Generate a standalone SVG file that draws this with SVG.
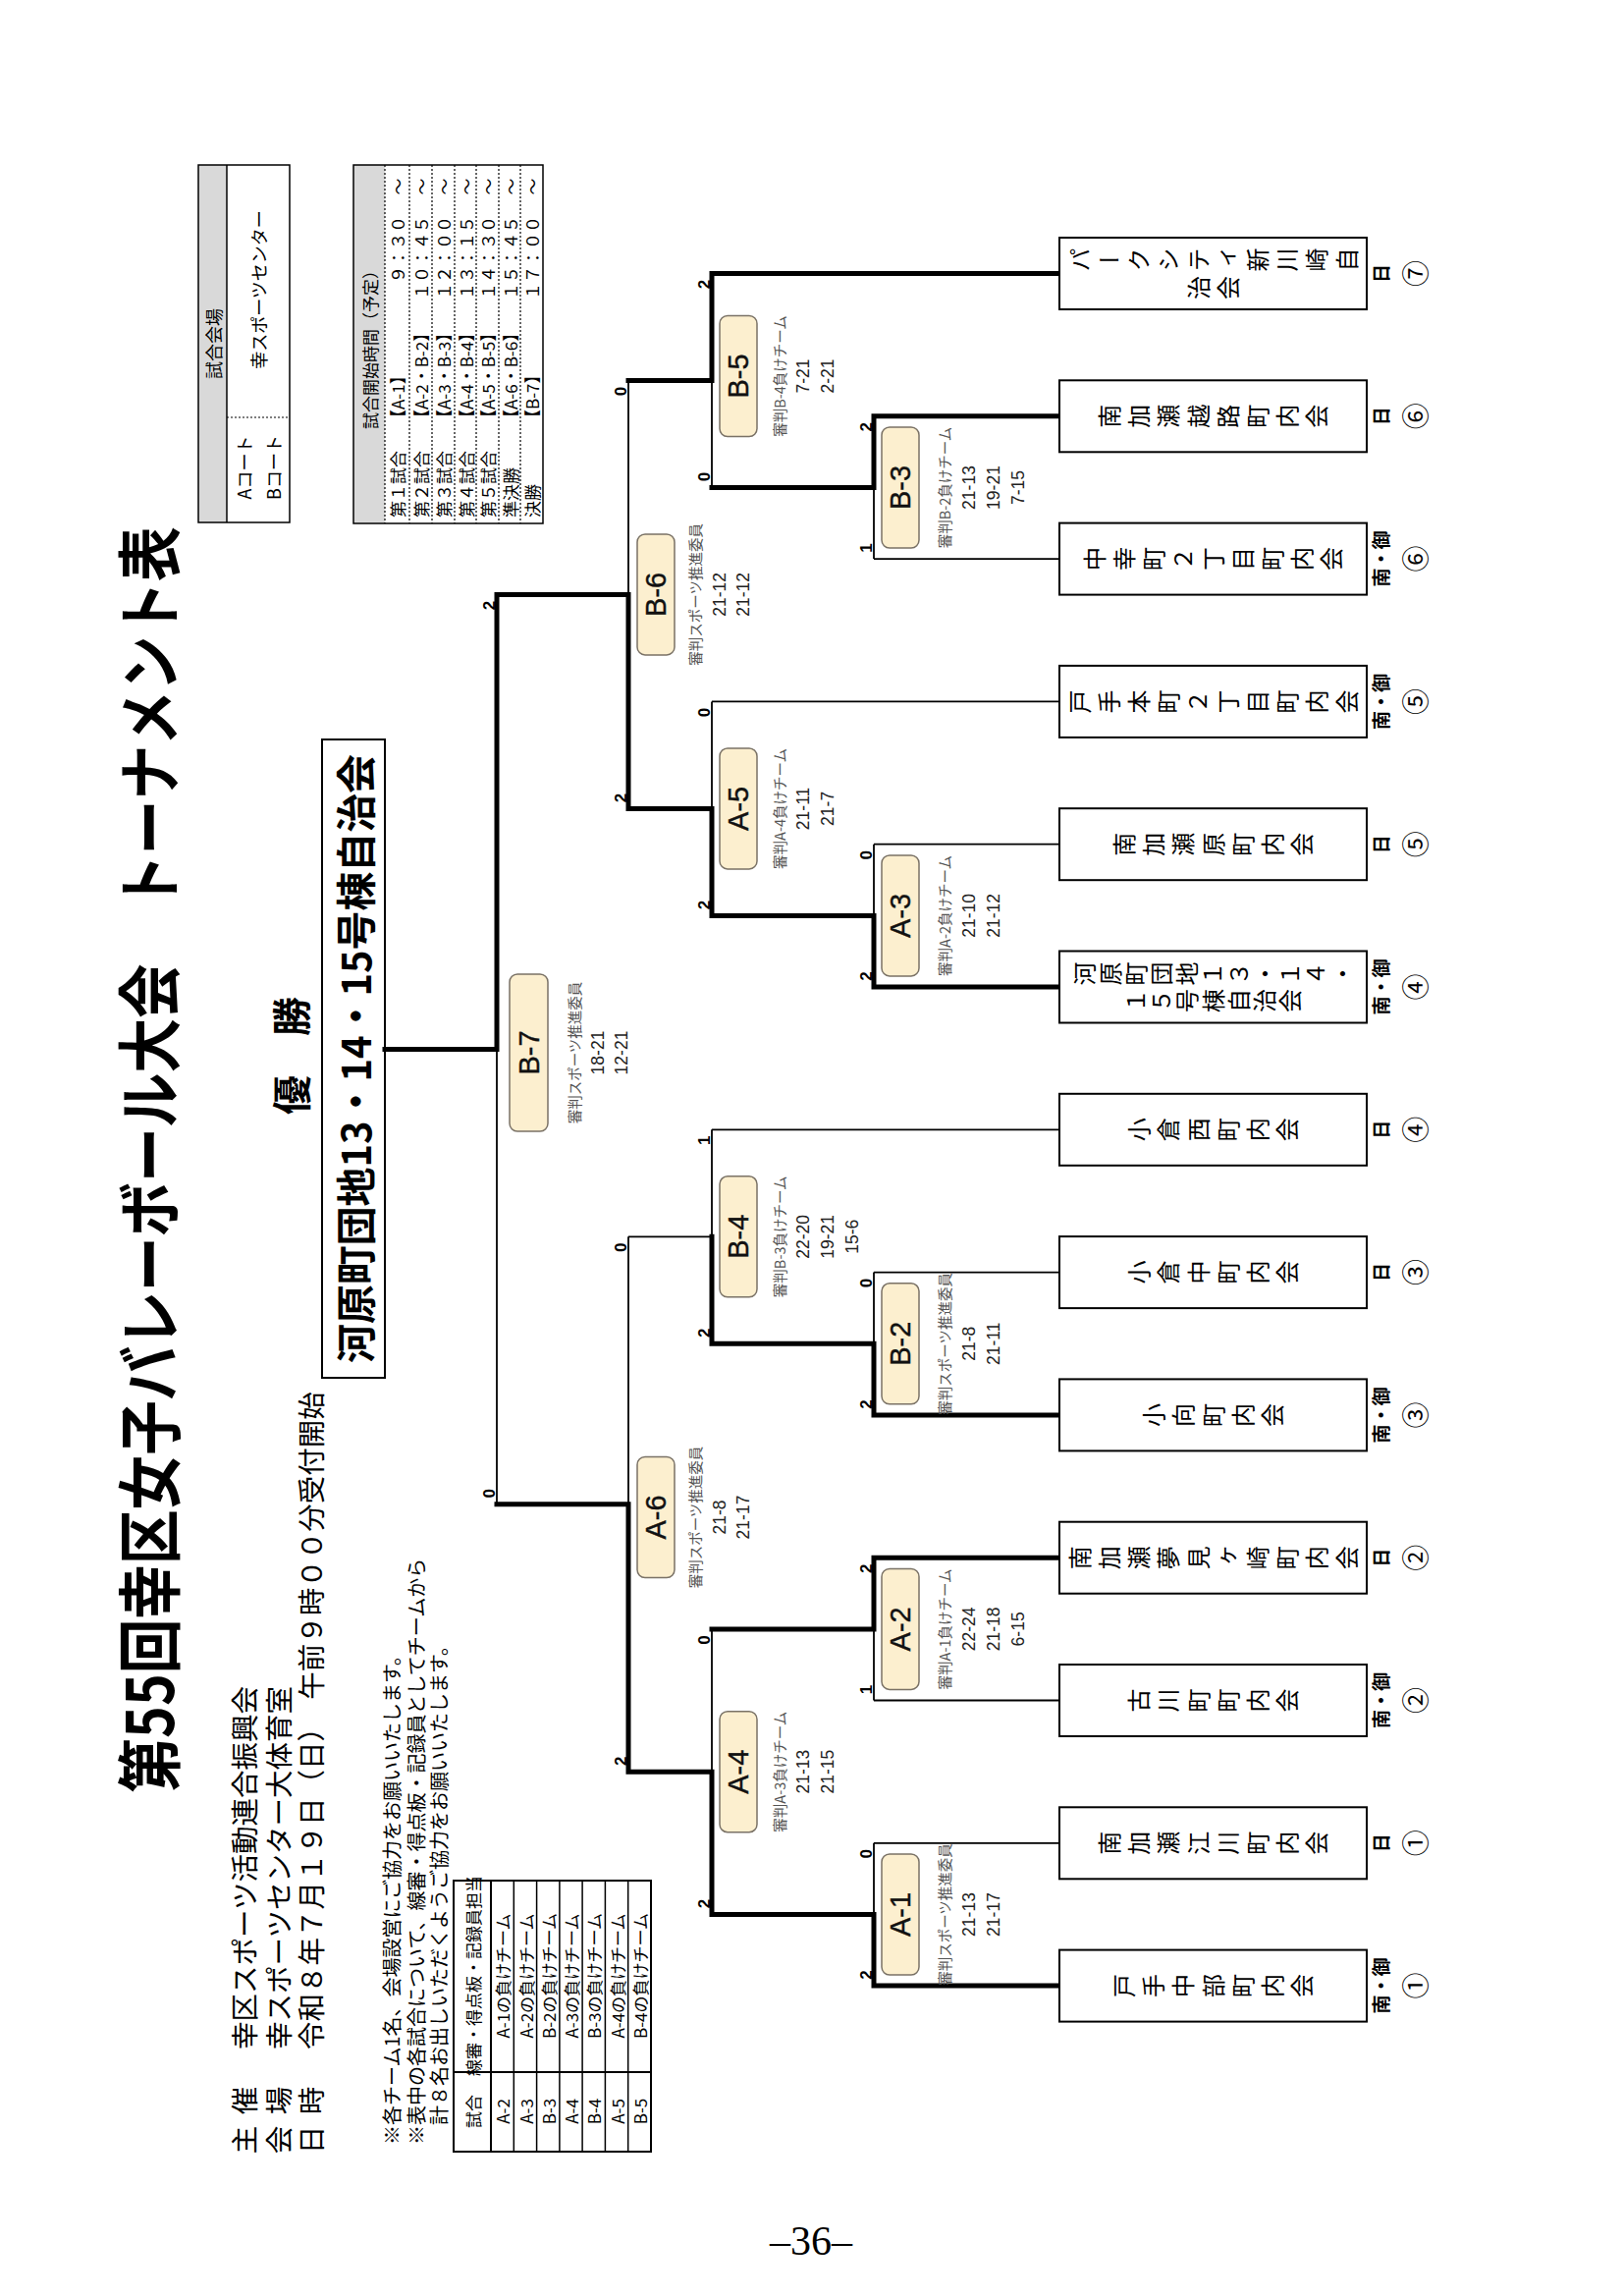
<svg xmlns="http://www.w3.org/2000/svg" width="1653" height="2338" viewBox="0 0 1653 2338">
<style>
.t{font-family:"Noto Sans CJK JP","Noto Sans",sans-serif;fill:#000}
.c{text-anchor:middle;dominant-baseline:central}
.s{dominant-baseline:central}
.e{text-anchor:end;dominant-baseline:central}
.tm{font-family:"Noto Sans CJK JP",sans-serif;font-size:24px;letter-spacing:6.2px;writing-mode:vertical-rl;text-anchor:middle;fill:#000}
.box{fill:#fff;stroke:#000;stroke-width:2}
.thick{fill:none;stroke:#000;stroke-width:5;stroke-linejoin:miter;stroke-linecap:square}
.thin{fill:none;stroke:#000;stroke-width:1.8}
.mr{fill:#fcefcf;stroke:#7a7266;stroke-width:1.5}
.ml{font-family:"Liberation Sans",Arial,sans-serif;font-size:29px;fill:#111;stroke:#111;stroke-width:0.4}
.ref{font-family:"Noto Sans CJK JP",sans-serif;font-size:14.5px;fill:#555}
.pt{font-family:"Liberation Sans",Arial,sans-serif;font-size:17.5px;fill:#222}
.sc{font-family:"Liberation Sans",Arial,sans-serif;font-size:17px;font-weight:bold;fill:#000}
.lb{font-family:"Noto Sans CJK JP",sans-serif;font-size:19px;font-weight:bold}
.ci{font-family:"Noto Sans CJK JP",sans-serif;font-size:27px}
.tb{fill:none;stroke:#000;stroke-width:2}
.tl{fill:none;stroke:#000;stroke-width:1.5}
.dot{fill:none;stroke:#000;stroke-width:1.2;stroke-dasharray:2 2}
.gray{fill:#d9d9d9}
</style>

<!-- Header info -->
<g id="title">
<text class="t c" transform="translate(148,1181) rotate(-90)" style="font-size:66px;font-weight:bold" textLength="1289" lengthAdjust="spacingAndGlyphs">第55回幸区女子バレーボール大会　トーナメント表</text>
</g>

<g id="info">
<text class="t c" transform="translate(247,2179) rotate(-90)" font-size="28.5">主</text>
<text class="t c" transform="translate(247,2139) rotate(-90)" font-size="28.5">催</text>
<text class="t s" transform="translate(247,2087) rotate(-90)" font-size="28.5">幸区スポーツ活動連合振興会</text>
<text class="t c" transform="translate(282,2179) rotate(-90)" font-size="28.5">会</text>
<text class="t c" transform="translate(282,2139) rotate(-90)" font-size="28.5">場</text>
<text class="t s" transform="translate(282,2087) rotate(-90)" font-size="28.5">幸スポーツセンター大体育室</text>
<text class="t c" transform="translate(315,2179) rotate(-90)" font-size="28.5">日</text>
<text class="t c" transform="translate(315,2139) rotate(-90)" font-size="28.5">時</text>
<text class="t s" transform="translate(315,2087) rotate(-90)" font-size="28.5">令和８年７月１９日（日）　午前９時００分受付開始</text>
</g>

<g id="notes">
<text class="t s" transform="translate(398,2184) rotate(-90)" font-size="20">※各チーム1名、会場設営にご協力をお願いいたします。</text>
<text class="t s" transform="translate(423,2184) rotate(-90)" font-size="20">※表中の各試合について、線審・得点板・記録員としてチームから</text>
<text class="t s" transform="translate(446,2164) rotate(-90)" font-size="20">計８名お出しいただくようご協力をお願いいたします。</text>
</g>

<g id="duty-table">
<rect class="tb" x="462" y="1915" width="201" height="276"/>
<path class="tb" d="M500,1915V2191M462,2110H663"/>
<path class="tl" d="M523.3,1915V2191M546.6,1915V2191M569.9,1915V2191M593.1,1915V2191M616.4,1915V2191M639.7,1915V2191"/>
<g class="t" font-size="17">
<text class="c" transform="translate(481,2150) rotate(-90)">試合</text>
<text class="c" transform="translate(481,2012) rotate(-90)">線審・得点板・記録員担当</text>
<text class="c" transform="translate(511.6,2150) rotate(-90)">A-2</text>
<text class="c" transform="translate(511.6,2012) rotate(-90)">A-1の負けチーム</text>
<text class="c" transform="translate(535,2150) rotate(-90)">A-3</text>
<text class="c" transform="translate(535,2012) rotate(-90)">A-2の負けチーム</text>
<text class="c" transform="translate(558.3,2150) rotate(-90)">B-3</text>
<text class="c" transform="translate(558.3,2012) rotate(-90)">B-2の負けチーム</text>
<text class="c" transform="translate(581.5,2150) rotate(-90)">A-4</text>
<text class="c" transform="translate(581.5,2012) rotate(-90)">A-3の負けチーム</text>
<text class="c" transform="translate(604.8,2150) rotate(-90)">B-4</text>
<text class="c" transform="translate(604.8,2012) rotate(-90)">B-3の負けチーム</text>
<text class="c" transform="translate(628.1,2150) rotate(-90)">A-5</text>
<text class="c" transform="translate(628.1,2012) rotate(-90)">A-4の負けチーム</text>
<text class="c" transform="translate(651.4,2150) rotate(-90)">B-5</text>
<text class="c" transform="translate(651.4,2012) rotate(-90)">B-4の負けチーム</text>
</g>
</g>

<g id="venue-table">
<rect class="gray" x="202" y="168" width="29" height="364"/>
<rect class="tl" x="202" y="168" width="93" height="364"/>
<path class="tl" d="M231,168V532"/>
<path class="dot" d="M231,425H295"/>
<g class="t" font-size="18">
<text class="c" transform="translate(216.5,350) rotate(-90)">試合会場</text>
<text class="c" transform="translate(263,295) rotate(-90)">幸スポーツセンター</text>
<text class="c" transform="translate(248,476) rotate(-90)">Aコート</text>
<text class="c" transform="translate(278,476) rotate(-90)">Bコート</text>
</g>
</g>

<g id="schedule-table">
<rect class="gray" x="360" y="168" width="32" height="365"/>
<rect class="tl" x="360" y="168" width="193" height="365"/>
<path class="dot" d="M392,168V533M417,168V533M440,168V533M463,168V533M485,168V533M508,168V533M530,168V533"/>
<g class="t" font-size="17">
<text class="c" transform="translate(376,352) rotate(-90)">試合開始時間（予定）</text>
<text class="s" transform="translate(404.5,527) rotate(-90)">第１試合</text>
<text class="s" transform="translate(404.5,434) rotate(-90)">【A-1】</text>
<text class="e" transform="translate(404.5,220) rotate(-90)">９：３０</text>
<text class="c" transform="translate(404.5,190) rotate(-90)">～</text>
<text class="s" transform="translate(428.5,527) rotate(-90)">第２試合</text>
<text class="s" transform="translate(428.5,434) rotate(-90)">【A-2・B-2】</text>
<text class="e" transform="translate(428.5,220) rotate(-90)">１０：４５</text>
<text class="c" transform="translate(428.5,190) rotate(-90)">～</text>
<text class="s" transform="translate(451.5,527) rotate(-90)">第３試合</text>
<text class="s" transform="translate(451.5,434) rotate(-90)">【A-3・B-3】</text>
<text class="e" transform="translate(451.5,220) rotate(-90)">１２：００</text>
<text class="c" transform="translate(451.5,190) rotate(-90)">～</text>
<text class="s" transform="translate(474,527) rotate(-90)">第４試合</text>
<text class="s" transform="translate(474,434) rotate(-90)">【A-4・B-4】</text>
<text class="e" transform="translate(474,220) rotate(-90)">１３：１５</text>
<text class="c" transform="translate(474,190) rotate(-90)">～</text>
<text class="s" transform="translate(496.5,527) rotate(-90)">第５試合</text>
<text class="s" transform="translate(496.5,434) rotate(-90)">【A-5・B-5】</text>
<text class="e" transform="translate(496.5,220) rotate(-90)">１４：３０</text>
<text class="c" transform="translate(496.5,190) rotate(-90)">～</text>
<text class="s" transform="translate(519,527) rotate(-90)">準決勝</text>
<text class="s" transform="translate(519,434) rotate(-90)">【A-6・B-6】</text>
<text class="e" transform="translate(519,220) rotate(-90)">１５：４５</text>
<text class="c" transform="translate(519,190) rotate(-90)">～</text>
<text class="s" transform="translate(541.5,527) rotate(-90)">決勝</text>
<text class="s" transform="translate(541.5,434) rotate(-90)">【B-7】</text>
<text class="e" transform="translate(541.5,220) rotate(-90)">１７：００</text>
<text class="c" transform="translate(541.5,190) rotate(-90)">～</text>
</g>
</g>

<g id="champion">
<text class="t c" transform="translate(295,1075) rotate(-90)" style="font-size:40px;font-weight:bold">優　勝</text>
<rect class="box" x="328" y="753" width="64" height="650"/>
<text class="t c" transform="translate(360,1078) rotate(-90)" style="font-size:41px;font-weight:bold" textLength="620" lengthAdjust="spacingAndGlyphs">河原町団地13・14・15号棟自治会</text>
</g>

<!-- Connectors -->
<g id="connectors">
<path class="thin" d="M890,569.1H1079M725,714.4H1079M890,859.7H1079M725,1150.3H1079M890,1295.6H1079M890,1731.5H1079M890,1876.8H1079"/>
<path class="thin" d="M890,496.5V569.1M725,387.5V496.5M640,387.5V605.4M725,714.4V823.4M890,859.7V932.4M725,1150.3V1259.3M890,1295.6V1368.3M640,1259.3V1531.7M890,1658.9V1731.5M725,1658.9V1804.2M890,1876.8V1949.5M506,1068.6V1531.7M640,1259.3H725"/>
<path class="thick" d="M1079,278.5H725V387.5H640"/>
<path class="thick" d="M1079,423.8H890V496.5H725"/>
<path class="thick" d="M1079,1005H890V932.4H725V823.4H640V605.4H506V1068.6H392"/>
<path class="thick" d="M1079,1440.9H890V1368.3H725V1259.3"/>
<path class="thick" d="M1079,1586.2H890V1658.9H725"/>
<path class="thick" d="M1079,2022.1H890V1949.5H725V1804.2H640V1531.7H506"/>
</g>

<!-- Teams -->
<g id="team-0"><rect class="box" x="1079" y="242" width="313" height="73"/>
<text class="tm" transform="translate(1238.6,264.5) rotate(-90)">パークシティ新川崎自</text>
<text class="tm" transform="translate(1238.6,293) rotate(-90)">治会</text>
<text class="t lb c" transform="translate(1405,278.5) rotate(-90)">日</text>
<text class="t ci c" transform="translate(1440,278.5) rotate(-90)">⑦</text></g>

<g id="team-1"><rect class="box" x="1079" y="387.3" width="313" height="73"/>
<text class="tm" transform="translate(1238.6,423.8) rotate(-90)">南加瀬越路町内会</text>
<text class="t lb c" transform="translate(1405,423.8) rotate(-90)">日</text>
<text class="t ci c" transform="translate(1440,423.8) rotate(-90)">⑥</text></g>

<g id="team-2"><rect class="box" x="1079" y="532.6" width="313" height="73"/>
<text class="tm" transform="translate(1238.6,569.1) rotate(-90)">中幸町２丁目町内会</text>
<text class="t lb c" transform="translate(1405,569.1) rotate(-90)">南・御</text>
<text class="t ci c" transform="translate(1440,569.1) rotate(-90)">⑥</text></g>

<g id="team-3"><rect class="box" x="1079" y="677.9" width="313" height="73"/>
<text class="tm" transform="translate(1238.6,714.4) rotate(-90)">戸手本町２丁目町内会</text>
<text class="t lb c" transform="translate(1405,714.4) rotate(-90)">南・御</text>
<text class="t ci c" transform="translate(1440,714.4) rotate(-90)">⑤</text></g>

<g id="team-4"><rect class="box" x="1079" y="823.2" width="313" height="73"/>
<text class="tm" transform="translate(1238.6,859.7) rotate(-90)">南加瀬原町内会</text>
<text class="t lb c" transform="translate(1405,859.7) rotate(-90)">日</text>
<text class="t ci c" transform="translate(1440,859.7) rotate(-90)">⑤</text></g>

<g id="team-5"><rect class="box" x="1079" y="968.5" width="313" height="73"/>
<text class="tm" style="letter-spacing:2.2px" transform="translate(1236.6,991.5) rotate(-90)">河原町団地１３・１４・</text>
<text class="tm" style="letter-spacing:2.2px" transform="translate(1236.6,1019) rotate(-90)">１５号棟自治会</text>
<text class="t lb c" transform="translate(1405,1005) rotate(-90)">南・御</text>
<text class="t ci c" transform="translate(1440,1005) rotate(-90)">④</text></g>

<g id="team-6"><rect class="box" x="1079" y="1113.8" width="313" height="73"/>
<text class="tm" transform="translate(1238.6,1150.3) rotate(-90)">小倉西町内会</text>
<text class="t lb c" transform="translate(1405,1150.3) rotate(-90)">日</text>
<text class="t ci c" transform="translate(1440,1150.3) rotate(-90)">④</text></g>

<g id="team-7"><rect class="box" x="1079" y="1259.1" width="313" height="73"/>
<text class="tm" transform="translate(1238.6,1295.6) rotate(-90)">小倉中町内会</text>
<text class="t lb c" transform="translate(1405,1295.6) rotate(-90)">日</text>
<text class="t ci c" transform="translate(1440,1295.6) rotate(-90)">③</text></g>

<g id="team-8"><rect class="box" x="1079" y="1404.4" width="313" height="73"/>
<text class="tm" transform="translate(1238.6,1440.9) rotate(-90)">小向町内会</text>
<text class="t lb c" transform="translate(1405,1440.9) rotate(-90)">南・御</text>
<text class="t ci c" transform="translate(1440,1440.9) rotate(-90)">③</text></g>

<g id="team-9"><rect class="box" x="1079" y="1549.7" width="313" height="73"/>
<text class="tm" transform="translate(1238.6,1586.2) rotate(-90)">南加瀬夢見ヶ崎町内会</text>
<text class="t lb c" transform="translate(1405,1586.2) rotate(-90)">日</text>
<text class="t ci c" transform="translate(1440,1586.2) rotate(-90)">②</text></g>

<g id="team-10"><rect class="box" x="1079" y="1695" width="313" height="73"/>
<text class="tm" transform="translate(1238.6,1731.5) rotate(-90)">古川町町内会</text>
<text class="t lb c" transform="translate(1405,1731.5) rotate(-90)">南・御</text>
<text class="t ci c" transform="translate(1440,1731.5) rotate(-90)">②</text></g>

<g id="team-11"><rect class="box" x="1079" y="1840.3" width="313" height="73"/>
<text class="tm" transform="translate(1238.6,1876.8) rotate(-90)">南加瀬江川町内会</text>
<text class="t lb c" transform="translate(1405,1876.8) rotate(-90)">日</text>
<text class="t ci c" transform="translate(1440,1876.8) rotate(-90)">①</text></g>

<g id="team-12"><rect class="box" x="1079" y="1985.6" width="313" height="73"/>
<text class="tm" transform="translate(1238.6,2022.1) rotate(-90)">戸手中部町内会</text>
<text class="t lb c" transform="translate(1405,2022.1) rotate(-90)">南・御</text>
<text class="t ci c" transform="translate(1440,2022.1) rotate(-90)">①</text></g>

<!-- Matches -->
<g id="match-B5">
<rect class="mr" x="733" y="321.5" width="38" height="123" rx="8"/>
<text class="ml c" transform="translate(752,383) rotate(-90)">B-5</text>
<text class="ref c" transform="translate(793,383) rotate(-90)">審判B-4負けチーム</text>
<text class="pt c" transform="translate(818,383) rotate(-90)">7-21</text>
<text class="pt c" transform="translate(843,383) rotate(-90)">2-21</text>
<text class="sc c" transform="translate(717,289.5) rotate(-90)">2</text>
<text class="sc c" transform="translate(717,485.5) rotate(-90)">0</text>
</g>
<g id="match-B3">
<rect class="mr" x="898" y="435" width="38" height="123" rx="8"/>
<text class="ml c" transform="translate(917,496.5) rotate(-90)">B-3</text>
<text class="ref c" transform="translate(961,496.5) rotate(-90)">審判B-2負けチーム</text>
<text class="pt c" transform="translate(987,496.5) rotate(-90)">21-13</text>
<text class="pt c" transform="translate(1012,496.5) rotate(-90)">19-21</text>
<text class="pt c" transform="translate(1037,496.5) rotate(-90)">7-15</text>
<text class="sc c" transform="translate(882,434.8) rotate(-90)">2</text>
<text class="sc c" transform="translate(882,558.1) rotate(-90)">1</text>
</g>
<g id="match-B6">
<rect class="mr" x="649" y="543.9" width="38" height="123" rx="8"/>
<text class="ml c" transform="translate(668,605.4) rotate(-90)">B-6</text>
<text class="ref c" transform="translate(707,605.4) rotate(-90)">審判スポーツ推進委員</text>
<text class="pt c" transform="translate(733,605.4) rotate(-90)">21-12</text>
<text class="pt c" transform="translate(757,605.4) rotate(-90)">21-12</text>
<text class="sc c" transform="translate(632,398.5) rotate(-90)">0</text>
<text class="sc c" transform="translate(632,812.4) rotate(-90)">2</text>
</g>
<g id="match-A5">
<rect class="mr" x="733" y="761.9" width="38" height="123" rx="8"/>
<text class="ml c" transform="translate(752,823.4) rotate(-90)">A-5</text>
<text class="ref c" transform="translate(793,823.4) rotate(-90)">審判A-4負けチーム</text>
<text class="pt c" transform="translate(818,823.4) rotate(-90)">21-11</text>
<text class="pt c" transform="translate(843,823.4) rotate(-90)">21-7</text>
<text class="sc c" transform="translate(717,725.4) rotate(-90)">0</text>
<text class="sc c" transform="translate(717,921.4) rotate(-90)">2</text>
</g>
<g id="match-A3">
<rect class="mr" x="898" y="870.9" width="38" height="123" rx="8"/>
<text class="ml c" transform="translate(917,932.4) rotate(-90)">A-3</text>
<text class="ref c" transform="translate(961,932.4) rotate(-90)">審判A-2負けチーム</text>
<text class="pt c" transform="translate(987,932.4) rotate(-90)">21-10</text>
<text class="pt c" transform="translate(1012,932.4) rotate(-90)">21-12</text>
<text class="sc c" transform="translate(882,870.7) rotate(-90)">0</text>
<text class="sc c" transform="translate(882,994) rotate(-90)">2</text>
</g>
<g id="match-B7">
<rect class="mr" x="519" y="992" width="39" height="160" rx="8"/>
<text class="ml c" transform="translate(538.5,1072) rotate(-90)">B-7</text>
<text class="ref c" transform="translate(584,1072) rotate(-90)">審判スポーツ推進委員</text>
<text class="pt c" transform="translate(609,1072) rotate(-90)">18-21</text>
<text class="pt c" transform="translate(633,1072) rotate(-90)">12-21</text>
<text class="sc c" transform="translate(498,616.4) rotate(-90)">2</text>
<text class="sc c" transform="translate(498,1520.7) rotate(-90)">0</text>
</g>
<g id="match-B4">
<rect class="mr" x="733" y="1197.8" width="38" height="123" rx="8"/>
<text class="ml c" transform="translate(752,1259.3) rotate(-90)">B-4</text>
<text class="ref c" transform="translate(793,1259.3) rotate(-90)">審判B-3負けチーム</text>
<text class="pt c" transform="translate(818,1259.3) rotate(-90)">22-20</text>
<text class="pt c" transform="translate(843,1259.3) rotate(-90)">19-21</text>
<text class="pt c" transform="translate(868,1259.3) rotate(-90)">15-6</text>
<text class="sc c" transform="translate(717,1161.3) rotate(-90)">1</text>
<text class="sc c" transform="translate(717,1357.3) rotate(-90)">2</text>
</g>
<g id="match-B2">
<rect class="mr" x="898" y="1306.8" width="38" height="123" rx="8"/>
<text class="ml c" transform="translate(917,1368.3) rotate(-90)">B-2</text>
<text class="ref c" transform="translate(961,1368.3) rotate(-90)">審判スポーツ推進委員</text>
<text class="pt c" transform="translate(987,1368.3) rotate(-90)">21-8</text>
<text class="pt c" transform="translate(1012,1368.3) rotate(-90)">21-11</text>
<text class="sc c" transform="translate(882,1306.6) rotate(-90)">0</text>
<text class="sc c" transform="translate(882,1429.9) rotate(-90)">2</text>
</g>
<g id="match-A6">
<rect class="mr" x="649" y="1483.5" width="38" height="123" rx="8"/>
<text class="ml c" transform="translate(668,1545) rotate(-90)">A-6</text>
<text class="ref c" transform="translate(707,1545) rotate(-90)">審判スポーツ推進委員</text>
<text class="pt c" transform="translate(733,1545) rotate(-90)">21-8</text>
<text class="pt c" transform="translate(757,1545) rotate(-90)">21-17</text>
<text class="sc c" transform="translate(632,1270.3) rotate(-90)">0</text>
<text class="sc c" transform="translate(632,1793.2) rotate(-90)">2</text>
</g>
<g id="match-A2">
<rect class="mr" x="898" y="1597.4" width="38" height="123" rx="8"/>
<text class="ml c" transform="translate(917,1658.9) rotate(-90)">A-2</text>
<text class="ref c" transform="translate(961,1658.9) rotate(-90)">審判A-1負けチーム</text>
<text class="pt c" transform="translate(987,1658.9) rotate(-90)">22-24</text>
<text class="pt c" transform="translate(1012,1658.9) rotate(-90)">21-18</text>
<text class="pt c" transform="translate(1037,1658.9) rotate(-90)">6-15</text>
<text class="sc c" transform="translate(882,1597.2) rotate(-90)">2</text>
<text class="sc c" transform="translate(882,1720.5) rotate(-90)">1</text>
</g>
<g id="match-A4">
<rect class="mr" x="733" y="1742.7" width="38" height="123" rx="8"/>
<text class="ml c" transform="translate(752,1804.2) rotate(-90)">A-4</text>
<text class="ref c" transform="translate(793,1804.2) rotate(-90)">審判A-3負けチーム</text>
<text class="pt c" transform="translate(818,1804.2) rotate(-90)">21-13</text>
<text class="pt c" transform="translate(843,1804.2) rotate(-90)">21-15</text>
<text class="sc c" transform="translate(717,1669.9) rotate(-90)">0</text>
<text class="sc c" transform="translate(717,1938.5) rotate(-90)">2</text>
</g>
<g id="match-A1">
<rect class="mr" x="898" y="1888" width="38" height="123" rx="8"/>
<text class="ml c" transform="translate(917,1949.5) rotate(-90)">A-1</text>
<text class="ref c" transform="translate(961,1949.5) rotate(-90)">審判スポーツ推進委員</text>
<text class="pt c" transform="translate(987,1949.5) rotate(-90)">21-13</text>
<text class="pt c" transform="translate(1012,1949.5) rotate(-90)">21-17</text>
<text class="sc c" transform="translate(882,1887.8) rotate(-90)">0</text>
<text class="sc c" transform="translate(882,2011.1) rotate(-90)">2</text>
</g>

<g id="page-number">
<text x="826" y="2296" text-anchor="middle" font-family="Liberation Serif, serif" font-size="42">–36–</text>
</g>
</svg>
